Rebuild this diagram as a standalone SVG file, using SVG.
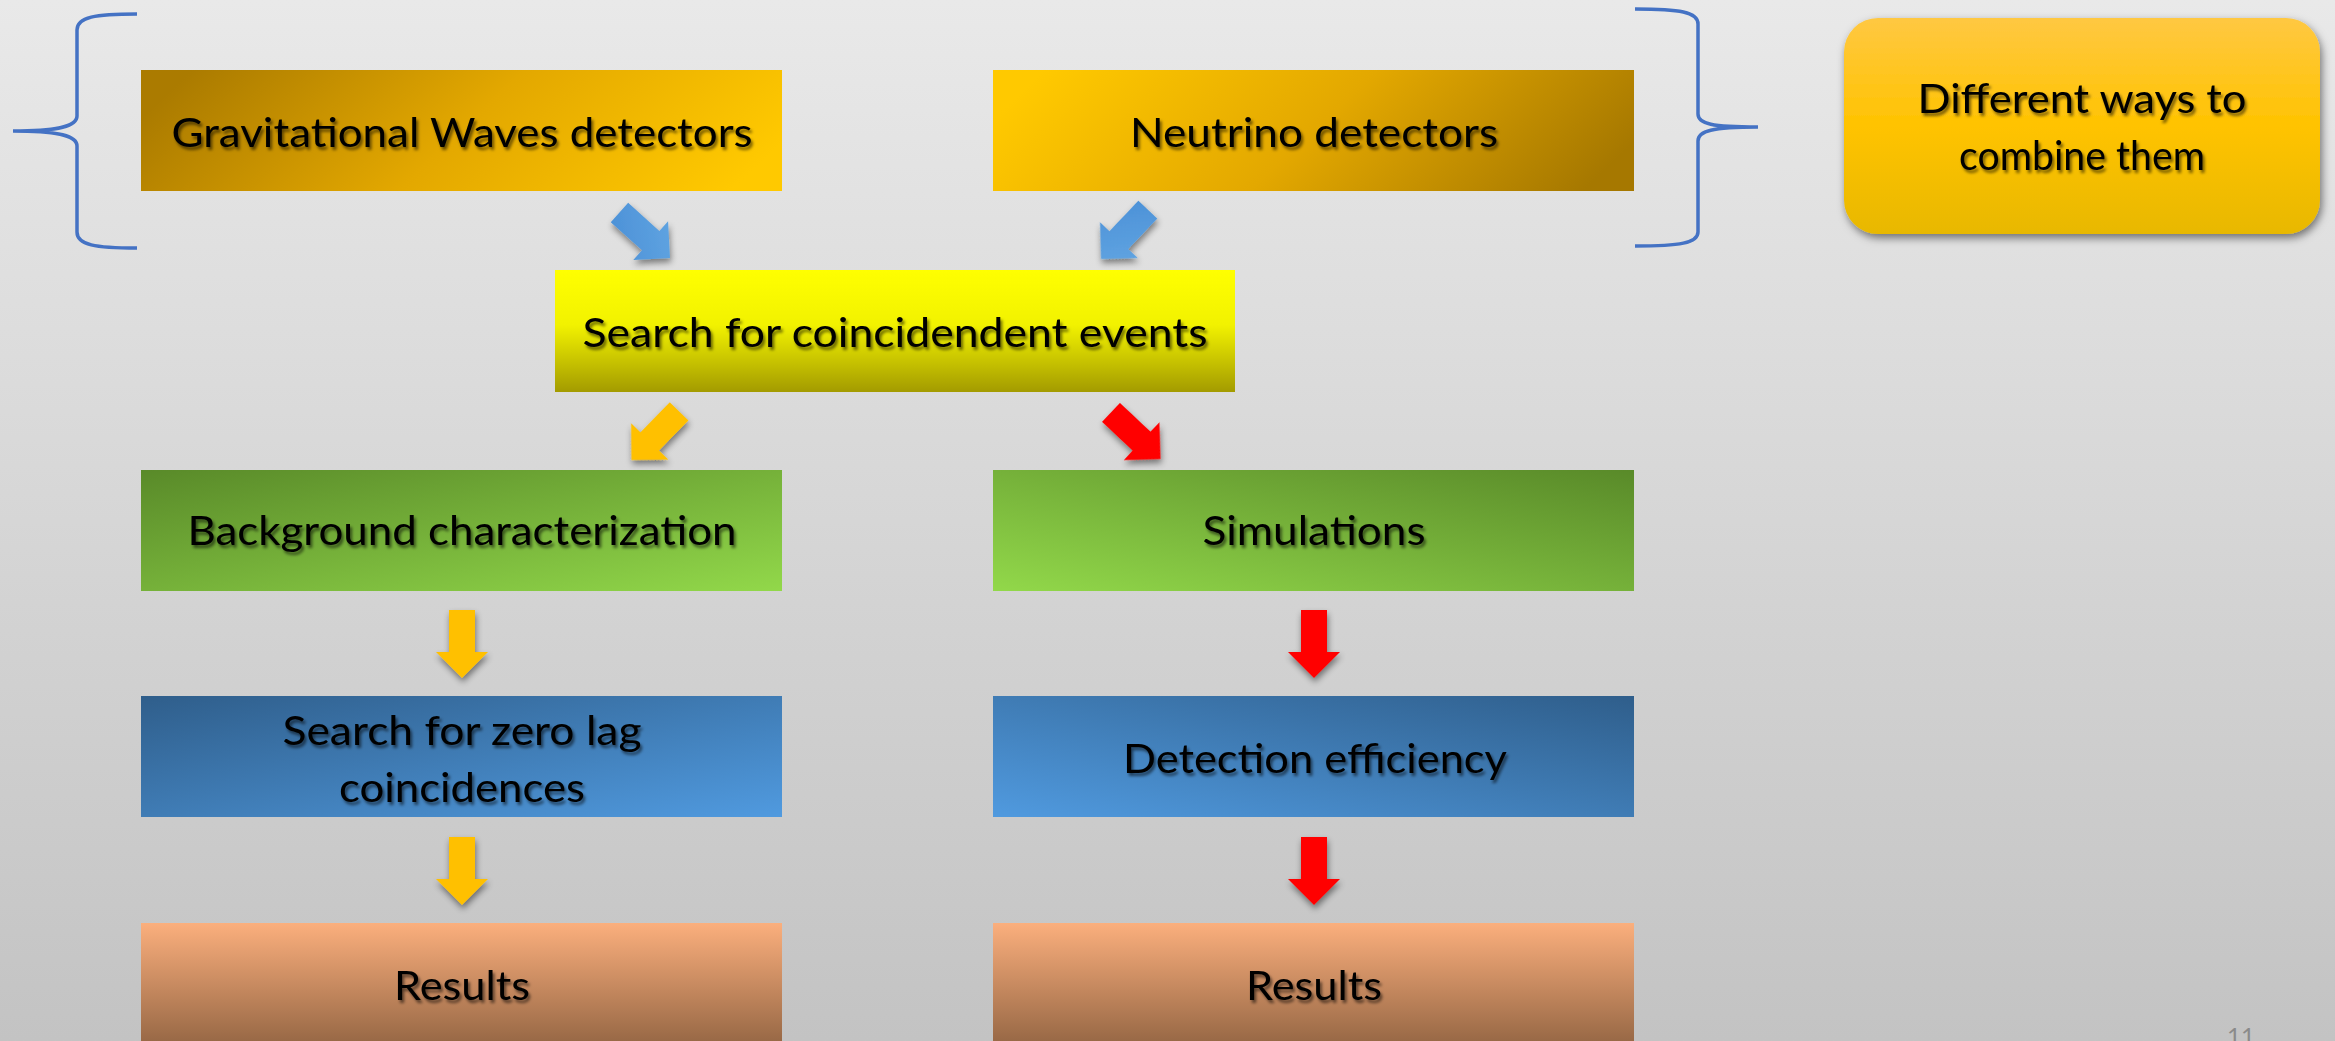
<svg xmlns="http://www.w3.org/2000/svg" width="2335" height="1041" viewBox="0 0 2335 1041">
<style>
.lbl{font-family:Lato,"Liberation Sans",sans-serif;font-size:41px;fill:#000;text-anchor:middle;filter:url(#tsh)}
.brace{fill:none;stroke:#4472c4;stroke-width:3.5;stroke-linecap:butt}
</style>
<defs>
<linearGradient id="bg" x1="0" y1="0" x2="0" y2="1"><stop offset="0" stop-color="#e9e9e9"/><stop offset="1" stop-color="#c3c3c3"/></linearGradient>
<linearGradient id="gwG" x1="0" y1="0.4" x2="1" y2="0.6"><stop offset="0" stop-color="#ab7b00"/><stop offset="0.5" stop-color="#e3a800"/><stop offset="1" stop-color="#ffc900"/></linearGradient>
<linearGradient id="nuG" x1="0" y1="0.4" x2="1" y2="0.6"><stop offset="0" stop-color="#ffc900"/><stop offset="0.5" stop-color="#e3a800"/><stop offset="1" stop-color="#a67800"/></linearGradient>
<linearGradient id="yeG" x1="0" y1="0" x2="0" y2="1"><stop offset="0" stop-color="#ffff00"/><stop offset="0.45" stop-color="#f2f200"/><stop offset="1" stop-color="#a39b00"/></linearGradient>
<linearGradient id="grL" x1="0" y1="0" x2="1" y2="1"><stop offset="0" stop-color="#598a29"/><stop offset="1" stop-color="#92d84a"/></linearGradient>
<linearGradient id="grR" x1="1" y1="0" x2="0" y2="1"><stop offset="0" stop-color="#598a29"/><stop offset="1" stop-color="#92d84a"/></linearGradient>
<linearGradient id="blL" x1="0" y1="0" x2="1" y2="1"><stop offset="0" stop-color="#2f5e8b"/><stop offset="1" stop-color="#509adf"/></linearGradient>
<linearGradient id="blR" x1="1" y1="0" x2="0" y2="1"><stop offset="0" stop-color="#2f5e8b"/><stop offset="1" stop-color="#509adf"/></linearGradient>
<linearGradient id="orG" x1="0" y1="0" x2="0" y2="1"><stop offset="0" stop-color="#fbaf7d"/><stop offset="1" stop-color="#996946"/></linearGradient>
<linearGradient id="dfG" x1="0" y1="0" x2="0" y2="1"><stop offset="0" stop-color="#ffc842"/><stop offset="0.5" stop-color="#ffc300"/><stop offset="1" stop-color="#e8b800"/></linearGradient>
<linearGradient id="arB" x1="0" y1="0" x2="1" y2="1"><stop offset="0" stop-color="#4a8fd6"/><stop offset="1" stop-color="#63a7e3"/></linearGradient>
<filter id="tsh" x="-10%" y="-30%" width="120%" height="160%"><feDropShadow dx="2" dy="3" stdDeviation="1.8" flood-color="#000" flood-opacity="0.55"/></filter>
<filter id="ash" x="-50%" y="-50%" width="200%" height="200%"><feDropShadow dx="1" dy="4" stdDeviation="3" flood-color="#000" flood-opacity="0.45"/></filter>
<filter id="bsh" x="-10%" y="-10%" width="120%" height="130%"><feDropShadow dx="2" dy="4" stdDeviation="4" flood-color="#000" flood-opacity="0.5"/></filter>
<path id="arr" d="M -13,-68 L 13,-68 L 13,-26 L 26,-26 L 0,0 L -26,-26 L -13,-26 Z"/>
</defs>
<rect x="0" y="0" width="2335" height="1041" fill="url(#bg)"/>

<g id="braces">
<path class="brace" d="M 137,14 C 95,14 77,17 77,30 L 77,116 C 77,126 60,131 13,131 C 60,131 77,136 77,146 L 77,232 C 77,245 95,248 137,248"/>
<path class="brace" d="M 1635,9 C 1680,9 1698,12 1698,24 L 1698,114 C 1698,124 1712,127 1758,127 C 1712,127 1698,131 1698,141 L 1698,232 C 1698,243 1680,246 1635,246"/>
</g>

<g id="connectors" filter="url(#ash)">
<use href="#arr" fill="url(#arB)" transform="translate(670,258) rotate(-48)"/>
<use href="#arr" fill="url(#arB)" transform="translate(1101,259) rotate(43.5)"/>
<use href="#arr" fill="#ffc000" transform="translate(631.5,460) rotate(44.4)"/>
<use href="#arr" fill="#ff0000" transform="translate(1160.5,459) rotate(-46.7)"/>
<use href="#arr" fill="#ffc000" transform="translate(462,678)"/>
<use href="#arr" fill="#ffc000" transform="translate(462,905)"/>
<use href="#arr" fill="#ff0000" transform="translate(1314,678)"/>
<use href="#arr" fill="#ff0000" transform="translate(1314,905)"/>
</g>

<g id="gw"><rect x="141" y="70" width="641" height="121" fill="url(#gwG)"/>
<text class="lbl" x="462" y="147" textLength="581" lengthAdjust="spacingAndGlyphs">Gravitational Waves detectors</text></g>
<g id="nu"><rect x="993" y="70" width="641" height="121" fill="url(#nuG)"/>
<text class="lbl" x="1314" y="147" textLength="368" lengthAdjust="spacingAndGlyphs">Neutrino detectors</text></g>
<g id="coinc"><rect x="555" y="270" width="680" height="122" fill="url(#yeG)"/>
<text class="lbl" x="895" y="347" textLength="625" lengthAdjust="spacingAndGlyphs">Search for coincidendent events</text></g>
<g id="bgchar"><rect x="141" y="470" width="641" height="121" fill="url(#grL)"/>
<text class="lbl" x="462" y="545" textLength="549" lengthAdjust="spacingAndGlyphs">Background characterization</text></g>
<g id="sim"><rect x="993" y="470" width="641" height="121" fill="url(#grR)"/>
<text class="lbl" x="1314" y="545" textLength="223" lengthAdjust="spacingAndGlyphs">Simulations</text></g>
<g id="zerolag"><rect x="141" y="696" width="641" height="121" fill="url(#blL)"/>
<text class="lbl" x="462" y="745" textLength="359" lengthAdjust="spacingAndGlyphs">Search for zero lag</text>
<text class="lbl" x="462" y="802" textLength="246" lengthAdjust="spacingAndGlyphs">coincidences</text></g>
<g id="deteff"><rect x="993" y="696" width="641" height="121" fill="url(#blR)"/>
<text class="lbl" x="1315" y="773" textLength="384" lengthAdjust="spacingAndGlyphs">Detection efficiency</text></g>
<g id="resL"><rect x="141" y="923" width="641" height="118" fill="url(#orG)"/>
<text class="lbl" x="462" y="1000" textLength="136" lengthAdjust="spacingAndGlyphs">Results</text></g>
<g id="resR"><rect x="993" y="923" width="641" height="118" fill="url(#orG)"/>
<text class="lbl" x="1314" y="1000" textLength="136" lengthAdjust="spacingAndGlyphs">Results</text></g>
<g id="ways"><rect x="1844" y="18" width="476" height="216" rx="34" ry="34" fill="url(#dfG)" filter="url(#bsh)"/>
<text class="lbl" x="2082" y="113" textLength="329" lengthAdjust="spacingAndGlyphs">Different ways to</text>
<text class="lbl" x="2082" y="170" textLength="246" lengthAdjust="spacingAndGlyphs">combine them</text></g>
<text x="2227" y="1045" font-family="Lato,'Liberation Sans',sans-serif" font-size="24" fill="#8a8a8a">11</text>
</svg>
